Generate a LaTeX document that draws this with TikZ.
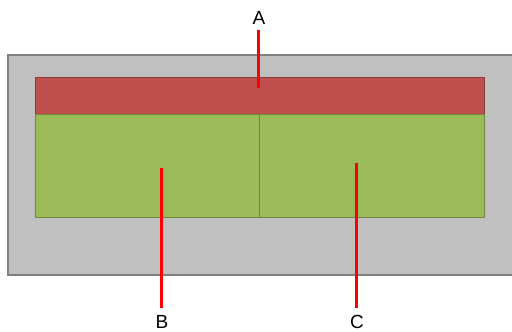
\documentclass[tikz,border=0pt]{standalone}
\usepackage{fontspec}
\setmainfont{Liberation Sans}
\usetikzlibrary{positioning}
\definecolor{framegray}{HTML}{C0C0C0}
\definecolor{frameline}{HTML}{808080}
\definecolor{bandred}{HTML}{C0504D}
\definecolor{bandline}{HTML}{8C3A38}
\definecolor{cellgreen}{HTML}{9BBB59}
\definecolor{cellline}{HTML}{71893F}

\begin{document}
\begin{tikzpicture}[x=1pt, y=-1pt,
  frame/.style={draw=frameline, fill=framegray, line width=1.2pt, rectangle, inner sep=0pt},
  band/.style={draw=bandline, fill=bandred, line width=1pt, rectangle, inner sep=0pt},
  cell/.style={draw=cellline, fill=cellgreen, line width=1pt, rectangle, inner sep=0pt},
  callout/.style={font=\fontsize{19}{20}\selectfont, text height=14pt, text depth=0pt, inner sep=0pt, outer sep=6pt},
  pointer/.style={draw=red, line width=3pt}
]
  \useasboundingbox (0,0) rectangle (512,332);

  \node[frame, minimum width=512pt, minimum height=220pt] (box) at (264,165) {};
  \node[band, minimum width=449pt, minimum height=37pt] (top) at (259.5,95.5) {};
  \node[cell, minimum width=224pt, minimum height=103pt] (left) at (147,165.5) {};
  \node[cell, minimum width=225pt, minimum height=103pt] (right) at (371.5,165.5) {};

  \node[callout] (A) at (259,17) {A};
  \node[callout] (B) at (162,321) {B};
  \node[callout] (C) at (357,321) {C};

  \coordinate (aEnd) at (258,88);
  \coordinate (bEnd) at (161,168);
  \coordinate (cEnd) at (356,163);

  \draw[pointer] (A.south -| aEnd) -- (aEnd);
  \draw[pointer] (B.north -| bEnd) -- (bEnd);
  \draw[pointer] (C.north -| cEnd) -- (cEnd);
\end{tikzpicture}
\end{document}
